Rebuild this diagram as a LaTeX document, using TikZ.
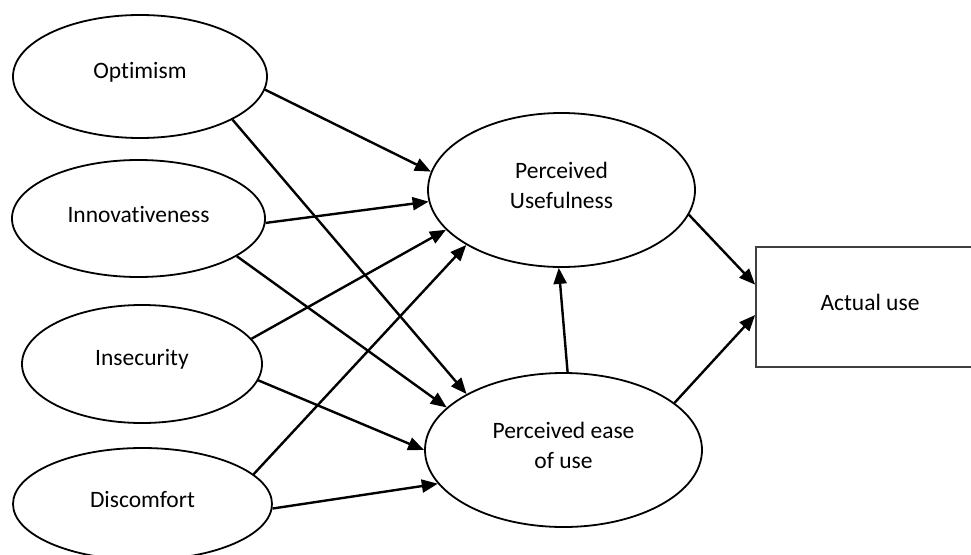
\documentclass[tikz,border=0pt]{standalone}
\usepackage{fontspec}
\setmainfont[Ligatures=NoCommon]{Carlito}
\usetikzlibrary{shapes.geometric,arrows.meta}
\begin{document}
\begin{tikzpicture}[x=1pt,y=-1pt,
  ell/.style={draw=black,line width=1.8pt,ellipse,inner sep=0pt},
  lab/.style={align=center,yshift=4.5pt,inner sep=0pt,
    font=\fontsize{23.5}{30}\selectfont},
  box/.style={draw=black!75,line width=1.8pt,rectangle,inner sep=0pt,
    font=\fontsize{23.5}{30}\selectfont},
  conn/.style={line width=2.4pt,-{Triangle[length=16pt,width=13pt]}}]
\useasboundingbox (0,0) rectangle (971,554);
\begin{scope}
\clip (0,0) rectangle (971,554);
\node[ell,minimum width=254pt,minimum height=123pt,label={[lab]center:Optimism}] (opt) at (140,76.5) {};
\node[ell,minimum width=253pt,minimum height=117pt,label={[lab]center:Innovativeness}] (inn) at (138.5,218.5) {};
\node[ell,minimum width=240pt,minimum height=118pt,label={[lab]center:Insecurity}] (ins) at (142,364) {};
\node[ell,minimum width=259pt,minimum height=112pt,label={[lab]center:Discomfort}] (dis) at (142.5,504) {};
\node[ell,minimum width=267pt,minimum height=154pt,label={[lab]center:Perceived\\Usefulness}] (pu) at (561.5,190) {};
\node[ell,minimum width=277pt,minimum height=154pt,label={[lab]center:Perceived ease\\of use}] (peou) at (563.5,450) {};
\node[box,minimum width=228pt,minimum height=120pt,label={[lab]center:Actual use}] (act) at (870,307) {};

\draw[conn] (opt.-6) -- (pu.172);
\draw[conn] (opt.-25) -- (peou.150);
\draw[conn] (inn.-2.3) -- (pu.185);
\draw[conn] (inn.-21.5) -- (peou.160);
\draw[conn] (ins.13.5) -- (pu.199);
\draw[conn] (ins.-8.8) -- (peou.180);
\draw[conn] (dis.15.7) -- (pu.210.5);
\draw[conn] (dis.-2.6) -- (peou.195.6);
\draw[conn] (peou.87) -- (pu.268.5);
\draw[conn] (pu.-11.2) -- (act.169);
\draw[conn] (peou.23.7) -- (act.184);
\end{scope}
\end{tikzpicture}
\end{document}
